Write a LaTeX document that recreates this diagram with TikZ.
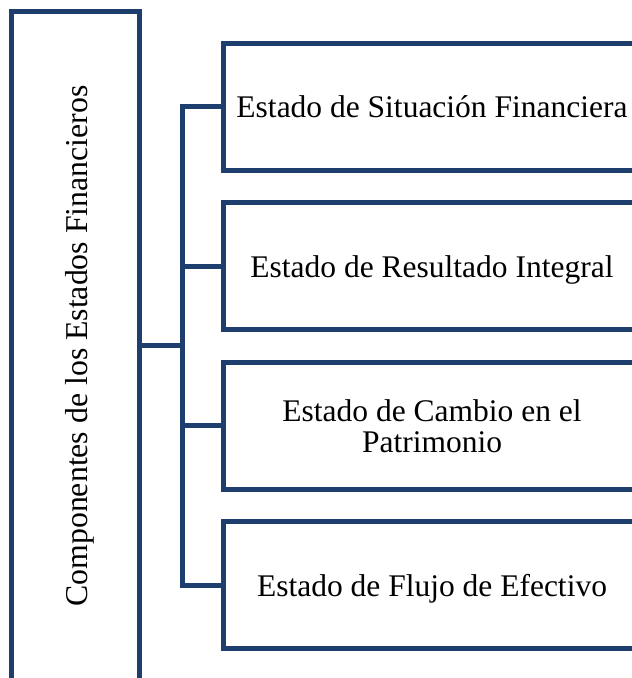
\documentclass[tikz,border=0pt]{standalone}
\usepackage{fontspec}
\setmainfont{Liberation Serif}
\definecolor{boxblue}{RGB}{30,63,110}
\begin{document}
\begin{tikzpicture}[x=1pt,y=-1pt,
  box/.style={draw=boxblue, line width=5pt, fill=white, inner sep=0pt,
    font=\fontsize{31.5}{31}\selectfont, text height=28pt, text depth=6pt, align=center},
  title/.style={inner sep=0pt, rotate=90, font=\fontsize{31.8}{31}\selectfont,
    text height=28pt, text depth=6pt},
  conn/.style={draw=boxblue, line width=5pt}]
\useasboundingbox (0,0) rectangle (632,678);
\node[box, minimum width=128pt, minimum height=688.5pt] (main) at (75.5,355.75) {};
\node[title] (maintitle) at (76,346) {Componentes de los Estados Financieros};
\node[box, minimum width=418pt, minimum height=127pt] (b1) at (432,106.5) {Estado de Situación Financiera};
\node[box, minimum width=418pt, minimum height=127pt] (b2) at (432,266) {Estado de Resultado Integral};
\node[box, minimum width=418pt, minimum height=127pt, text height=59pt] (b3) at (432,425.75) {Estado de Cambio en el\\Patrimonio};
\node[box, minimum width=418pt, minimum height=127pt] (b4) at (432,585.25) {Estado de Flujo de Efectivo};
\coordinate (j) at (182,345.5);
\draw[conn] (main.east |- j) -- (j);
\draw[conn] (b1.west) -| (j);
\draw[conn] (b2.west) -| (j);
\draw[conn] (b3.west) -| (j);
\draw[conn] (b4.west) -| (j);
\end{tikzpicture}
\end{document}
